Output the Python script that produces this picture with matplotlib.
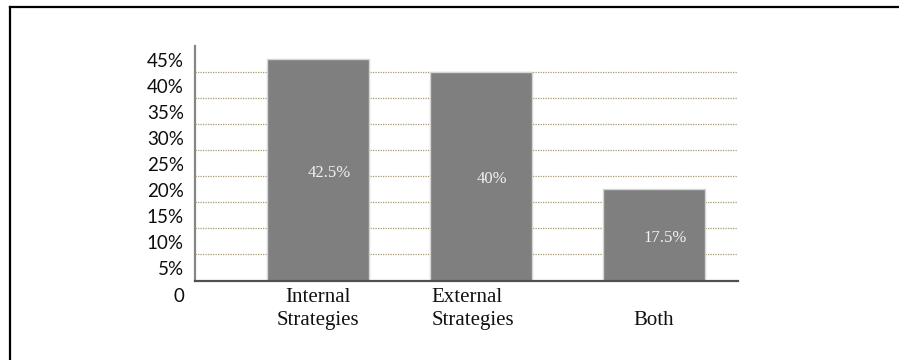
import matplotlib
matplotlib.use("Agg")
import matplotlib.pyplot as plt
from matplotlib.lines import Line2D
from matplotlib.transforms import ScaledTranslation, blended_transform_factory

# strategy shares
categories = ["Internal\nStrategies", "External\nStrategies", "\nBoth"]
shares = [42.5, 40, 17.5]
value_labels = ["42.5%", "40%", "17.5%"]
ytick_values = [0, 5, 10, 15, 20, 25, 30, 35, 40, 45]
ytick_labels = ["0"] + [f"{v}%" for v in ytick_values[1:]]

# layout
bar_pos = [0.18, 1.08, 2.035]
bar_width = 0.567
cat_align = ["center", "left", "center"]

fig = plt.figure(figsize=(8.99, 3.6), dpi=100)
ax = fig.add_axes([195 / 899, 1 - 280.5 / 360, 543 / 899, 234.5 / 360])

for y in ytick_values[1:-1]:
    ax.axhline(y, color="#a59a73", lw=0.9, ls=(0, (1, 1)), zorder=1)

ax.bar(bar_pos, shares, width=bar_width, color="#7f7f7f",
       edgecolor="#d4d4d4", linewidth=1, zorder=2)

for x, v, lab in zip(bar_pos, shares, value_labels):
    ax.annotate(lab, (x, v / 2), xytext=(8, -2), textcoords="offset points",
                ha="center", va="center", color="#f2f2f2",
                family="Liberation Serif", fontsize=12, zorder=3)

ax.set_xlim(-0.5, 2.5)
ax.set_ylim(0, 45)
ax.set_xticks([])
ax.set_yticks(ytick_values, ytick_labels)
ax.tick_params(axis="y", length=0, pad=8, labelsize=13.5)
for t in ax.get_yticklabels():
    t.set_family("Lato")
    t.set_color("#0d0d0d")
    t.set_transform(t.get_transform() + ScaledTranslation(0, -14 / 100, fig.dpi_scale_trans))

# category labels under the bars
trans = blended_transform_factory(ax.transData, ax.transAxes)
for x, cat, al in zip(bar_pos, categories, cat_align):
    xx = x if al == "center" else x - bar_width / 2 + 0.01
    ax.text(xx, 0, cat, transform=trans + ScaledTranslation(0, -7 / 100, fig.dpi_scale_trans),
            ha=al, va="top", multialignment=al, family="Liberation Serif",
            fontsize=15, color="#111111", linespacing=1.3)

for s in ["top", "right"]:
    ax.spines[s].set_visible(False)
ax.spines["left"].set_color("#858585")
ax.spines["left"].set_linewidth(1.6)
ax.spines["bottom"].set_color("#505050")
ax.spines["bottom"].set_linewidth(1.6)

# frame lines along the top and left edge
fig.add_artist(Line2D([10 / 899, 1], [1 - 6.5 / 360] * 2, color="black", lw=1.6))
fig.add_artist(Line2D([10 / 899] * 2, [0, 1 - 6.5 / 360], color="black", lw=1.6))

fig.savefig("out.png", dpi=100)
